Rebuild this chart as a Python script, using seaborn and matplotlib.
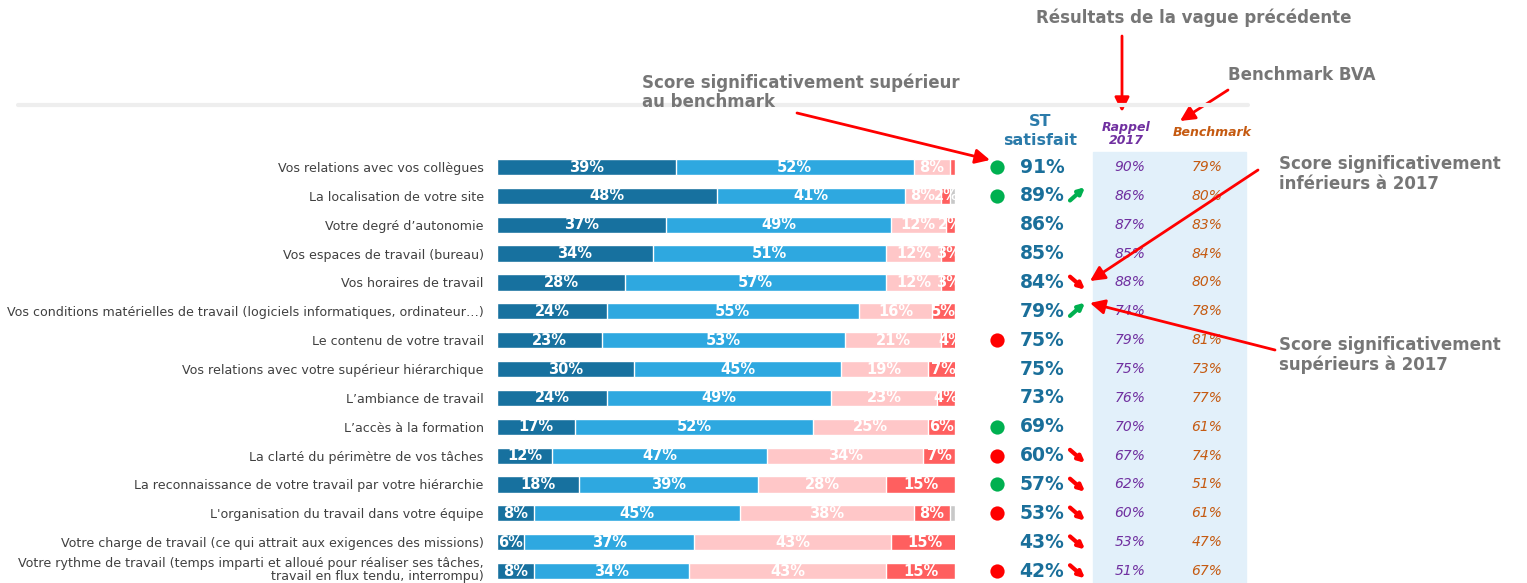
import pandas as pd
import seaborn as sns
import numpy as np
import matplotlib
matplotlib.use("Agg")
from matplotlib import pyplot as plt
import matplotlib.transforms as mtransforms
from matplotlib.patches import Rectangle
from matplotlib.lines import Line2D

# ---- données ----
items = [
    "Vos relations avec vos collègues",
    "La localisation de votre site",
    "Votre degré d\u2019autonomie",
    "Vos espaces de travail (bureau)",
    "Vos horaires de travail",
    "Vos conditions matérielles de travail (logiciels informatiques, ordinateur\u2026)",
    "Le contenu de votre travail",
    "Vos relations avec votre supérieur hiérarchique",
    "L\u2019ambiance de travail",
    "L\u2019accès à la formation",
    "La clarté du périmètre de vos tâches",
    "La reconnaissance de votre travail par votre hiérarchie",
    "L'organisation du travail dans votre équipe",
    "Votre charge de travail (ce qui attrait aux exigences des missions)",
    "Votre rythme de travail (temps imparti et alloué pour réaliser ses tâches,\ntravail en flux tendu, interrompu)",
]
tres_satisfait = [39, 48, 37, 34, 28, 24, 23, 30, 24, 17, 12, 18, 8, 6, 8]
plutot_satisfait = [52, 41, 49, 51, 57, 55, 53, 45, 49, 52, 47, 39, 45, 37, 34]
plutot_pas = [8, 8, 12, 12, 12, 16, 21, 19, 23, 25, 34, 28, 38, 43, 43]
pas_du_tout = [1, 2, 2, 3, 3, 5, 4, 7, 4, 6, 7, 15, 8, 15, 15]
st_satisfait = [91, 89, 86, 85, 84, 79, 75, 75, 73, 69, 60, 57, 53, 43, 42]
rappel_2017 = [90, 86, 87, 85, 88, 74, 79, 75, 76, 70, 67, 62, 60, 53, 51]
benchmark = [79, 80, 83, 84, 80, 78, 81, 73, 77, 61, 74, 51, 61, 47, 67]
# pastille vs benchmark : 'sup' / 'inf' / None
vs_benchmark = ['sup', 'sup', None, None, None, None, 'inf', None, None, 'sup', 'inf', 'sup', 'inf', None, 'inf']
# évolution vs 2017 : 'up' / 'down' / None
vs_2017 = [None, 'up', None, None, 'down', 'up', None, None, None, None, 'down', 'down', 'down', 'down', 'down']

cols = ['tres', 'plutot', 'plutot_pas', 'pas']
colors = ['#17719F', '#2EA8E0', '#FFC7C8', '#FF5F5F']

df = pd.DataFrame({'item': items, 'tres': tres_satisfait, 'plutot': plutot_satisfait,
                   'plutot_pas': plutot_pas, 'pas': pas_du_tout})
cum = df[cols].cumsum(axis=1)

W, H = 1527, 583
sns.set_theme(style='white')
plt.rcParams['font.family'] = ['DejaVu Sans']
fig = plt.figure(figsize=(W / 100, H / 100), dpi=100)

row0, step = 167, 28.86
ax = fig.add_axes([497 / W, (H - (row0 + 14.5 * step)) / H, 458 / W, 15 * step / H])
ax.patch.set_alpha(0)

# barres empilées (cumul, du plus long au plus court)
sns.barplot(x=[100] * len(items), y=df['item'], color='#C8C8C8', saturation=1, orient='h', width=0.56, ax=ax)
for c, col in reversed(list(zip(cols, colors))):
    sns.barplot(x=cum[c], y=df['item'], color=col, saturation=1, orient='h', width=0.56, ax=ax)

ax.set_xlim(0, 100)
ax.set_ylim(14.5, -0.5)
ax.set_xlabel('')
ax.set_ylabel('')
ax.set_xticks([])
for s in ax.spines.values():
    s.set_visible(False)
ax.tick_params(axis='y', length=0, pad=9.5, labelsize=9.1, labelcolor='#404040')
labels = ax.get_yticklabels()
for t in labels:
    t.set_multialignment('right')
    t.set_linespacing(1.0)
labels[-1].set_transform(labels[-1].get_transform() +
                         mtransforms.ScaledTranslation(0, 2 / 72, fig.dpi_scale_trans))

# étiquettes des segments
for i in range(len(items)):
    left = 0
    for c in cols:
        v = df.loc[i, c]
        if v >= 2:
            ax.text(min(left + v / 2, 99), i, f"{v}%", ha='center', va='center', color='white',
                    fontsize=10.5, fontweight='bold')
        left += v

# colonnes de droite
trans = mtransforms.blended_transform_factory(fig.transFigure, ax.transData)
fig.add_artist(Rectangle((1093 / W, 0), (1246 - 1093) / W, (H - 152) / H,
                         transform=fig.transFigure, color='#E2F0FA', zorder=-1))
for i in range(len(items)):
    ax.text(1042 / W, i, f"{st_satisfait[i]}%", transform=trans, ha='center', va='center',
            fontsize=13.5, fontweight='bold', color='#1A6F9A', clip_on=False)
    ax.text(1130 / W, i, f"{rappel_2017[i]}%", transform=trans, ha='center', va='center',
            fontsize=10, style='italic', color='#7030A0', clip_on=False)
    ax.text(1207 / W, i, f"{benchmark[i]}%", transform=trans, ha='center', va='center',
            fontsize=10, style='italic', color='#C55A11', clip_on=False)
    if vs_benchmark[i]:
        ax.scatter([997 / W], [i], transform=trans, s=105, clip_on=False, linewidths=0,
                   color='#00B050' if vs_benchmark[i] == 'sup' else '#FF0000', zorder=5)
    if vs_2017[i] == 'up':
        ax.annotate('', xy=(1085 / W, i - 0.3), xytext=(1070 / W, i + 0.16), xycoords=trans,
                    textcoords=trans, annotation_clip=False,
                    arrowprops=dict(arrowstyle='-|>', color='#00B050', lw=3, mutation_scale=9,
                                    shrinkA=0, shrinkB=0))
    elif vs_2017[i] == 'down':
        ax.annotate('', xy=(1085 / W, i + 0.25), xytext=(1070 / W, i - 0.2), xycoords=trans,
                    textcoords=trans, annotation_clip=False,
                    arrowprops=dict(arrowstyle='-|>', color='#FF0000', lw=3, mutation_scale=9,
                                    shrinkA=0, shrinkB=0))

# en-têtes
def fp(x, y):
    return (x / W, 1 - y / H)

fig.text(*fp(1040, 131), "ST\nsatisfait", ha='center', va='center', fontsize=11.5,
         fontweight='bold', color='#2B7BAA', linespacing=1.35)
fig.text(*fp(1126, 134), "Rappel\n2017", ha='center', va='center', fontsize=9,
         fontweight='bold', style='italic', color='#7030A0', linespacing=1.0)
fig.text(*fp(1212, 133), "Benchmark", ha='center', va='center', fontsize=9,
         fontweight='bold', style='italic', color='#C55A11')

fig.add_artist(Line2D([18 / W, 1248 / W], [1 - 105 / H] * 2, color='#EEEEEE', lw=3,
                      transform=fig.transFigure))

# annotations
grey = '#767676'
fig.text(*fp(1036, 18), "Résultats de la vague précédente", ha='left', va='center',
         fontsize=12, fontweight='bold', color=grey)
fig.text(*fp(1228, 75), "Benchmark BVA", ha='left', va='center',
         fontsize=12, fontweight='bold', color=grey)
fig.text(*fp(642, 92), "Score significativement supérieur\nau benchmark", ha='left', va='center',
         fontsize=12, fontweight='bold', color=grey, linespacing=1.1)
fig.text(*fp(1279, 174), "Score significativement\ninférieurs à 2017", ha='left', va='center',
         fontsize=12, fontweight='bold', color=grey, linespacing=1.1)
fig.text(*fp(1279, 355), "Score significativement\nsupérieurs à 2017", ha='left', va='center',
         fontsize=12, fontweight='bold', color=grey, linespacing=1.1)

arrows = [((1122, 36), (1122, 112)),
          ((1228, 90), (1180, 121)),
          ((797, 113), (990, 160)),
          ((1258, 170), (1090, 281)),
          ((1275, 350), (1090, 303))]
for tail, head in arrows:
    ax.annotate('', xy=fp(*head), xytext=fp(*tail), xycoords='figure fraction',
                textcoords='figure fraction', annotation_clip=False,
                arrowprops=dict(arrowstyle='-|>', color='#FF0000', lw=2, mutation_scale=22,
                                shrinkA=0, shrinkB=0))

fig.savefig("out.png", dpi=100)
